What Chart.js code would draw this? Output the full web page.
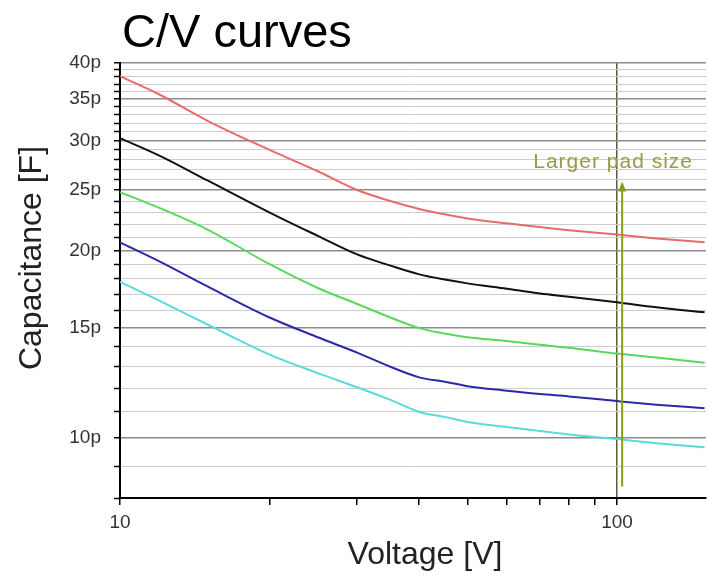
<!DOCTYPE html>
<html lang="en">
  <head>
    <meta charset="UTF-8" />
    <title>C/V curves</title>
    <script src="https://cdn.jsdelivr.net/npm/chart.js"></script>
    <style>
      body {
        margin: 0;
        background: #fff;
      }
      .wrap {
        width: 708px;
        height: 579px;
      }
    </style>
  </head>
  <body>
    <div class="wrap"><canvas id="cvChart" width="708" height="579"></canvas></div>

    <script>
      // bias voltage [V]
      const voltage = [10, 12, 15, 20, 25, 30, 35, 40, 45, 50, 60, 70, 80, 100, 120, 150];

      // capacitance [pF], one array per pad size
      const padRed = [38.1, 35.6, 32.3, 29.0, 26.8, 25.0, 24.0, 23.3, 22.85, 22.5, 22.1, 21.8, 21.55, 21.2, 20.9, 20.6];
      const padBlack = [30.3, 28.4, 25.9, 23.0, 21.1, 19.7, 18.9, 18.3, 17.95, 17.7, 17.35, 17.05, 16.85, 16.5, 16.2, 15.9];
      const padGreen = [24.8, 23.4, 21.6, 19.0, 17.4, 16.4, 15.6, 15.0, 14.7, 14.5, 14.3, 14.1, 13.95, 13.65, 13.45, 13.2];
      const padBlue = [20.6, 19.2, 17.5, 15.6, 14.5, 13.7, 13.0, 12.5, 12.3, 12.1, 11.9, 11.75, 11.65, 11.45, 11.3, 11.15];
      const padCyan = [17.8, 16.6, 15.2, 13.6, 12.7, 12.05, 11.5, 11.0, 10.8, 10.6, 10.4, 10.25, 10.12, 9.95, 9.8, 9.65];

      // axis ticks
      const xTicks = [10, 20, 30, 40, 50, 60, 70, 80, 90, 100];
      const xLabels = [10, 100];
      const yTicks = [];
      for (let v = 8; v <= 40; v++) yTicks.push(v);
      const yLabels = [10, 15, 20, 25, 30, 35, 40];

      // "Larger pad size" arrow, in data units
      const arrowV = 102.4;
      const arrowFrom = 8.35;
      const arrowTo = 25.8;
      const noteV = 98.2;
      const noteC = 27.7;

      const FONT = '"Liberation Sans", Arial, sans-serif';
      Chart.defaults.font.family = FONT;

      const toPoints = (ys) => voltage.map((x, i) => ({ x, y: ys[i] }));

      function line(data, color) {
        return {
          data: toPoints(data),
          borderColor: color,
          borderWidth: 2,
          pointRadius: 0,
          fill: false,
          cubicInterpolationMode: "monotone",
        };
      }

      const textPlugin = {
        id: "texts",
        afterDraw(chart) {
          const ctx = chart.ctx;
          const xs = chart.scales.x;
          const ys = chart.scales.y;

          // arrow
          const ax = xs.getPixelForValue(arrowV);
          const y0 = ys.getPixelForValue(arrowFrom);
          const y1 = ys.getPixelForValue(arrowTo);
          ctx.save();
          ctx.strokeStyle = "#8c9a14";
          ctx.fillStyle = "#8c9a14";
          ctx.lineWidth = 2;
          ctx.beginPath();
          ctx.moveTo(ax, y0);
          ctx.lineTo(ax, y1 + 8);
          ctx.stroke();
          ctx.beginPath();
          ctx.moveTo(ax, y1);
          ctx.lineTo(ax - 4, y1 + 10);
          ctx.lineTo(ax + 4, y1 + 10);
          ctx.closePath();
          ctx.fill();

          ctx.fillStyle = "#9a9a48";
          ctx.font = "21px " + FONT;
          ctx.letterSpacing = "1px";
          ctx.textAlign = "center";
          ctx.textBaseline = "middle";
          ctx.fillText("Larger pad size", xs.getPixelForValue(noteV), ys.getPixelForValue(noteC));
          ctx.letterSpacing = "0px";

          // title and axis titles
          ctx.fillStyle = "#000";
          ctx.textAlign = "left";
          ctx.textBaseline = "alphabetic";
          ctx.font = "47px " + FONT;
          ctx.fillText("C/V curves", 122, 47);

          ctx.fillStyle = "#222";
          ctx.font = "32px " + FONT;
          ctx.textAlign = "center";
          ctx.textBaseline = "middle";
          ctx.fillText("Voltage [V]", 425, 555);
          ctx.translate(32, 258);
          ctx.rotate(-Math.PI / 2);
          ctx.fillText("Capacitance [F]", 0, 0);
          ctx.restore();
        },
      };

      new Chart(document.getElementById("cvChart"), {
        type: "line",
        data: {
          datasets: [
            line(padRed, "#e86a6a"),
            line(padBlack, "#111111"),
            line(padGreen, "#5ad85a"),
            line(padBlue, "#2a2aa8"),
            line(padCyan, "#5adada"),
          ],
        },
        options: {
          responsive: false,
          animation: false,
          layout: { padding: { top: 63, right: 2, left: 0, bottom: 0 } },
          plugins: {
            legend: { display: false },
            tooltip: { enabled: false },
          },
          scales: {
            x: {
              type: "logarithmic",
              min: 10,
              max: 151,
              afterBuildTicks: (scale) => {
                scale.ticks = xTicks.map((v) => ({ value: v }));
              },
              afterFit: (scale) => {
                scale.height = 81;
              },
              border: { color: "#000", width: 2 },
              grid: {
                color: (c) => (c.tick && c.tick.value === 100 ? "#5a5a3c" : "rgba(0,0,0,0)"),
                lineWidth: 1.5,
                tickColor: "#000",
                tickLength: 7,
                tickWidth: 1.5,
              },
              ticks: {
                autoSkip: false,
                maxRotation: 0,
                padding: 6,
                color: "#333",
                font: { size: 19 },
                callback: (v) => (xLabels.includes(v) ? String(v) : ""),
              },
            },
            y: {
              type: "logarithmic",
              min: 8,
              max: 40,
              afterBuildTicks: (scale) => {
                scale.ticks = yTicks.map((v) => ({ value: v }));
              },
              afterFit: (scale) => {
                scale.width = 120;
              },
              border: { color: "#000", width: 2 },
              grid: {
                color: (c) => (c.tick && c.tick.value % 5 === 0 ? "#8c8c8c" : "#cccccc"),
                lineWidth: (c) => (c.tick && c.tick.value % 5 === 0 ? 1.5 : 1),
                tickColor: "#000",
                tickLength: 6,
                tickWidth: 1.5,
              },
              ticks: {
                autoSkip: false,
                padding: 13,
                color: "#333",
                font: { size: 19 },
                callback: (v) => (yLabels.includes(v) ? v + "p" : ""),
              },
            },
          },
        },
        plugins: [textPlugin],
      });
    </script>
  </body>
</html>
